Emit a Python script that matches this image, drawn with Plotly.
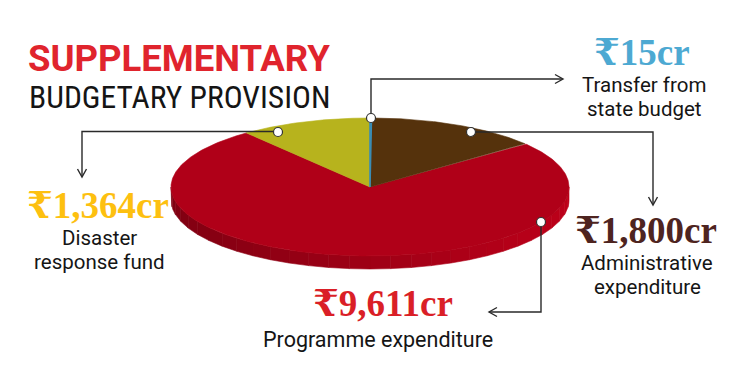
import numpy as np
import plotly.graph_objects as go

# ---------------- data ----------------
categories = ["Transfer from state budget", "Administrative expenditure",
              "Programme expenditure", "Disaster response fund"]
values_cr = [15, 1800, 9611, 1364]
value_labels = ["₹15cr", "₹1,800cr", "₹9,611cr", "₹1,364cr"]
label_lines = [["Transfer from", "state budget"],
               ["Administrative", "expenditure"],
               ["Programme expenditure"],
               ["Disaster", "response fund"]]
title_lines = ["SUPPLEMENTARY", "BUDGETARY PROVISION"]

# ---------------- styles / geometry ----------------
slice_colors = ["#3A8CB4", "#55320C", "#B00018", "#B7B31D"]
slice_edge_widths = [1.6, 0.6, 0.6, 0.6]
value_colors = ["#4DA9D2", "#4E2420", "#DA1F27", "#FDC010"]
CX, CY, RX, RY, DEPTH = 370.0, 187.0, 199.0, 69.0, 13.0
W, H = 750, 375
OFF = 8  # page body margin of the html page

def ell(t_deg, dy=0.0):
    t = np.radians(t_deg)
    return CX + RX * np.sin(t), CY - RY * np.cos(t) + dy

def shade(hex_color, f):
    h = hex_color.lstrip("#")
    r, g, b = (int(h[i:i + 2], 16) for i in (0, 2, 4))
    r, g, b = (max(0, min(255, int(round(c * f)))) for c in (r, g, b))
    return f"rgb({r},{g},{b})"

fig = go.Figure()

total = float(sum(values_cr))
starts = np.concatenate([[0.0], np.cumsum(values_cr)[:-1]]) / total * 360.0
ends = np.cumsum(values_cr) / total * 360.0

# side (visible front rim from 90 to 270 degrees)
for c, a0, a1 in zip(slice_colors, starts, ends):
    lo, hi = max(a0, 90.0), min(a1, 270.0)
    if hi <= lo:
        continue
    edges = np.linspace(lo, hi, 31)
    for s0, s1 in zip(edges[:-1], edges[1:]):
        ts = np.linspace(s0, s1, 6)
        xt, yt = ell(ts)
        xb, yb = ell(ts[::-1], DEPTH)
        mid = np.radians((s0 + s1) / 2)
        f = 0.90 + 0.17 * np.sin(mid)
        col = shade(c, f)
        fig.add_trace(go.Scatter(
            x=np.concatenate([xt, xb, xt[:1]]), y=np.concatenate([yt, yb, yt[:1]]),
            mode="lines", fill="toself", fillcolor=col,
            line=dict(color=col, width=0.6), hoverinfo="skip", showlegend=False))

# top face wedges (largest first so the thin slice stays visible on top)
order = sorted(range(len(values_cr)), key=lambda k: -values_cr[k])
for k in order:
    name, c, a0, a1 = categories[k], slice_colors[k], starts[k], ends[k]
    ts = np.linspace(a0, a1, max(3, int((a1 - a0) * 2)))
    xs, ys = ell(ts)
    fig.add_trace(go.Scatter(
        x=np.concatenate([[CX], xs, [CX]]), y=np.concatenate([[CY], ys, [CY]]),
        mode="lines", fill="toself", fillcolor=c, name=name,
        line=dict(color=c, width=slice_edge_widths[k]), hoverinfo="skip", showlegend=False))

# ---------------- connectors ----------------
LC = "#2a2a2a"
connectors = [
    "M 371 118 V 79 H 562",
    "M 471 132 H 653 V 204",
    "M 278 131.5 H 82 V 176",
    "M 541 222 V 312 H 489",
]
arrowheads = [
    "M 555 74.5 L 563 79 L 555 83.5",
    "M 648.5 197 L 653 205 L 657.5 197",
    "M 77.5 169 L 82 177 L 86.5 169",
    "M 497 307.5 L 489 312 L 497 316.5",
]
dots = [(371, 118), (471, 132), (278, 132), (541, 222)]
shapes = []
for p in connectors + arrowheads:
    shapes.append(dict(type="path", path=p, xref="x", yref="y",
                       line=dict(color=LC, width=1.4)))
for (dx, dy) in dots:
    r = 4.5
    shapes.append(dict(type="circle", xref="x", yref="y",
                       x0=dx - r, x1=dx + r, y0=dy - r, y1=dy + r,
                       fillcolor="white", line=dict(color="#333", width=1.2)))

# ---------------- text ----------------
NUM_FONT = "Liberation Serif, DejaVu Serif, serif"
LAB_FONT = "Roboto, Liberation Sans, sans-serif"
ann = []
# title
ann.append(dict(x=26, y=58.5, text=f"<b>{title_lines[0]}</b>", xanchor="left", yanchor="middle",
                font=dict(family="Roboto, Liberation Sans, sans-serif", size=36.5, color="#E0242D")))
ann.append(dict(x=27, y=97.5, text=title_lines[1], xanchor="left", yanchor="middle",
                font=dict(family="Liberation Sans Narrow, Roboto Condensed, Roboto, sans-serif",
                          size=31.5, color="#151515")))

value_pos = [(642, 52), (646, 230), (383, 303), (98, 205)]
label_pos = [[(644, 85), (644, 109)],
             [(647, 262.5), (647, 286.5)],
             [(378, 339)],
             [(99, 237.5), (99, 261.5)]]
label_sizes = [20.5, 20.5, 21.5, 20.5]
for i in range(len(values_cr)):
    vx, vy = value_pos[i]
    ann.append(dict(x=vx, y=vy, text=f"<b>{value_labels[i]}</b>", xanchor="center",
                    yanchor="middle",
                    font=dict(family=NUM_FONT, size=37, color=value_colors[i])))
    for (lx, ly), line in zip(label_pos[i], label_lines[i]):
        ann.append(dict(x=lx, y=ly, text=line, xanchor="center", yanchor="middle",
                        font=dict(family=LAB_FONT, size=label_sizes[i], color="#151515")))
for a in ann:
    a.update(xref="x", yref="y", showarrow=False)

fig.update_layout(
    width=W, height=H, margin=dict(l=0, r=0, t=0, b=0),
    paper_bgcolor="white", plot_bgcolor="white", showlegend=False,
    xaxis=dict(range=[OFF, W + OFF], visible=False, fixedrange=True),
    yaxis=dict(range=[H + OFF, OFF], visible=False, fixedrange=True),
    shapes=shapes, annotations=ann,
)
fig.write_html("out.html")
